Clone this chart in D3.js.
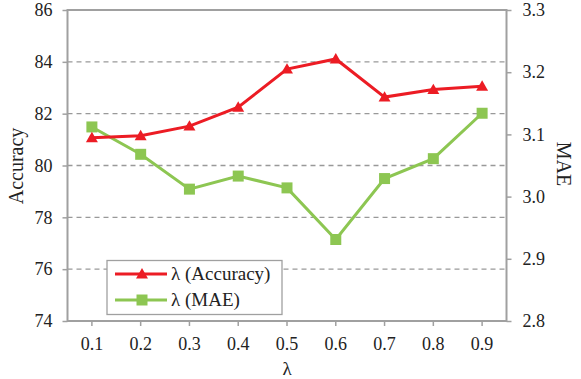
<!DOCTYPE html>
<html><head><meta charset="utf-8">
<script src="https://cdn.jsdelivr.net/npm/d3@7"></script>
<style>body{margin:0;background:#fff}svg{display:block}text{font-family:"Liberation Serif","Times New Roman",serif}</style>
</head><body>
<script>
const lambdas = ["0.1","0.2","0.3","0.4","0.5","0.6","0.7","0.8","0.9"];
const accuracy = [81.07, 81.15, 81.52, 82.25, 83.72, 84.11, 82.64, 82.93, 83.06];
const mae = [3.112, 3.068, 3.012, 3.033, 3.014, 2.931, 3.029, 3.061, 3.134];
const leftTicks = [74, 76, 78, 80, 82, 84, 86];
const rightTicks = [2.8, 2.9, 3.0, 3.1, 3.2, 3.3];
const seriesNames = ["λ (Accuracy)", "λ (MAE)"];

const W = 581, H = 379;
const m = {l: 67.5, r: 506.5, t: 10, b: 321};
const red = "#ec1c24", green = "#8dc652", axisCol = "#a0a0a0";
const font = "'Liberation Serif','Times New Roman',serif";

const svg = d3.select("body").append("svg").attr("width", W).attr("height", H);

const x = d3.scaleBand().domain(lambdas).range([m.l, m.r]);
const yL = d3.scaleLinear().domain([74, 86]).range([m.b, m.t]);
const yR = d3.scaleLinear().domain([2.8, 3.3]).range([m.b, m.t]);
const cx = d => x(d) + x.bandwidth() / 2;

// gridlines
svg.append("g").selectAll("line").data(leftTicks.slice(1, -1)).join("line")
  .attr("x1", m.l).attr("x2", m.r).attr("y1", d => yL(d)).attr("y2", d => yL(d))
  .attr("stroke", "#999").attr("stroke-width", 1.3).attr("stroke-dasharray", "5,4");

// frame
svg.append("rect").attr("x", m.l).attr("y", m.t).attr("width", m.r - m.l).attr("height", m.b - m.t)
  .attr("fill", "none").attr("stroke", axisCol).attr("stroke-width", 2);

function styleAxis(g) {
  g.attr("font-family", null);
  g.select(".domain").remove();
  g.selectAll(".tick line").attr("stroke", axisCol).attr("stroke-width", 1.5);
  g.selectAll(".tick text").style("font-family", font).attr("font-size", 18).attr("fill", "#222");
}

svg.append("g").attr("transform", `translate(${m.l},0)`)
  .call(d3.axisLeft(yL).tickValues(leftTicks).tickSize(5).tickPadding(10).tickFormat(d3.format("d")))
  .call(styleAxis);
svg.append("g").attr("transform", `translate(${m.r},0)`)
  .call(d3.axisRight(yR).tickValues(rightTicks).tickSize(5).tickPadding(11).tickFormat(d3.format(".1f")))
  .call(styleAxis);
svg.append("g").attr("transform", `translate(0,${m.b})`)
  .call(d3.axisBottom(x).tickSize(5).tickPadding(11))
  .call(styleAxis);

// axis titles
svg.append("text").attr("x", (m.l + m.r) / 2).attr("y", 375).attr("text-anchor", "middle")
  .style("font-family", font).attr("font-size", 19).attr("fill", "#222").text("λ");
svg.append("text").attr("transform", `translate(23,166) rotate(-90)`).attr("text-anchor", "middle")
  .style("font-family", font).attr("font-size", 20).attr("fill", "#222").text("Accuracy");
svg.append("text").attr("transform", `translate(557,164) rotate(90)`).attr("text-anchor", "middle")
  .style("font-family", font).attr("font-size", 20).attr("fill", "#222").text("MAE");

const tri = d3.symbol().type(d3.symbolTriangle).size(62);
const sq = d3.symbol().type(d3.symbolSquare).size(121);

// MAE series
svg.append("path").datum(mae)
  .attr("d", d3.line().x((d, i) => cx(lambdas[i])).y(d => yR(d)))
  .attr("fill", "none").attr("stroke", green).attr("stroke-width", 3);
svg.append("g").selectAll("path").data(mae).join("path")
  .attr("transform", (d, i) => `translate(${cx(lambdas[i])},${yR(d)})`)
  .attr("d", sq).attr("fill", green);

// Accuracy series
svg.append("path").datum(accuracy)
  .attr("d", d3.line().x((d, i) => cx(lambdas[i])).y(d => yL(d)))
  .attr("fill", "none").attr("stroke", red).attr("stroke-width", 3);
svg.append("g").selectAll("path").data(accuracy).join("path")
  .attr("transform", (d, i) => `translate(${cx(lambdas[i])},${yL(d) + 1})`)
  .attr("d", tri).attr("fill", red);

// legend
const lg = svg.append("g");
lg.append("rect").attr("x", 107).attr("y", 260.5).attr("width", 175).attr("height", 54)
  .attr("fill", "#fff").attr("stroke", axisCol).attr("stroke-width", 1.3);
const rows = [{c: red, s: tri, y: 274, n: seriesNames[0], dy: 1}, {c: green, s: sq, y: 300, n: seriesNames[1], dy: 0}];
rows.forEach(r => {
  lg.append("line").attr("x1", 115).attr("x2", 167).attr("y1", r.y).attr("y2", r.y)
    .attr("stroke", r.c).attr("stroke-width", 3);
  lg.append("path").attr("transform", `translate(142,${r.y + r.dy})`).attr("d", r.s).attr("fill", r.c);
  lg.append("text").attr("x", 171).attr("y", r.y + 6).style("font-family", font).attr("font-size", 19)
    .attr("fill", "#222").text(r.n);
});
</script>
</body></html>
